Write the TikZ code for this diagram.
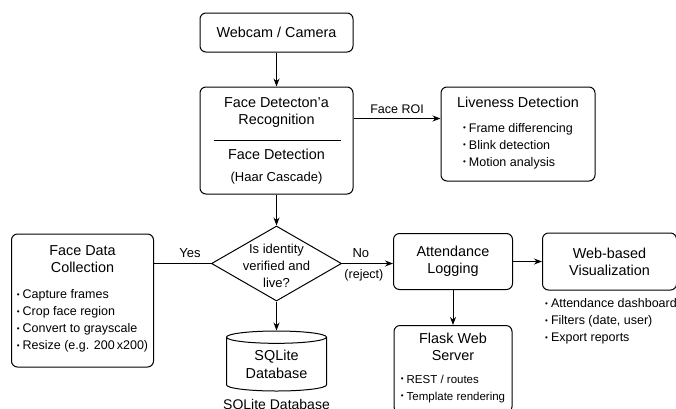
\documentclass[tikz,border=0pt]{standalone}
\usepackage{fontspec}
\setmainfont{Liberation Sans}
\usetikzlibrary{shapes.geometric,arrows.meta,positioning,calc}

\newcommand{\itm}{\raisebox{0.2ex}{\footnotesize\textbullet}\hspace{3pt}}
\newcommand{\bulletlist}[1]{{\fontsize{12.5}{17}\selectfont\begin{tabular}[t]{@{}l@{}}#1\end{tabular}}}

\begin{document}
\begin{tikzpicture}[x=1pt, y=-1pt,
    block/.style={rectangle, draw, rounded corners=6pt, line width=1pt, align=center, inner sep=0pt, font=\fontsize{14.4}{17}\selectfont},
    decision/.style={diamond, draw, line width=1pt, minimum width=130pt, minimum height=75pt, inner sep=0pt},
    store/.style={cylinder, draw, shape border rotate=90, aspect=0.2, line width=1pt, align=center, inner sep=0pt, font=\fontsize{14.4}{18}\selectfont},
    note/.style={align=left, inner sep=0pt, font=\fontsize{12.5}{17}\selectfont},
    arrow/.style={-{Stealth[length=8pt,width=6pt]}, line width=1pt},
    line/.style={line width=1pt}]
  \clip (0,0) rectangle (676,408);

  \node[block, minimum width=153pt, minimum height=39pt] (cam) at (276.5,32.5) {Webcam / Camera};
  \node[block, minimum width=153pt, minimum height=107pt, below=34pt of cam] (det)
    {Face Detecton'a\\Recognition\\[18pt]Face Detection\\[5pt]{\fontsize{13}{17}\selectfont(Haar Cascade)}};
  \draw[line] ([xshift=14pt]det.west) -- ([xshift=-13pt]det.east);
  \node[block, minimum width=154pt, minimum height=94pt, right=87pt of det.north east, anchor=north west] (live)
    {Liveness Detection\\[8pt]\bulletlist{\itm Frame differencing\\\itm Blink detection\\\itm Motion analysis}};

  \node[decision, below=31pt of det, label={[align=center, font=\fontsize{13}{17}\selectfont, yshift=-2pt]center:Is identity\\verified and\\live?}] (dec) {};
  \node[block, minimum width=142pt, minimum height=133pt, left=57pt of dec.west, anchor=north east, yshift=30pt] (fdc)
    {Face Data\\Collection\\[9pt]\bulletlist{\itm Capture frames\\\itm Crop face region\\\itm Convert to grayscale\\\itm Resize (e.g. 200\,x200)}};
  \node[store, minimum width=100pt, minimum height=60pt, below=29pt of dec,
    label={[font=\fontsize{14}{17}\selectfont, inner sep=0pt, yshift=-8pt]below:SQLite Database}] (db) {SQLite\\Database};

  \node[block, minimum width=119pt, minimum height=56pt, right=51pt of dec.east, anchor=west, yshift=2pt] (att) {Attendance\\Logging};
  \node[block, minimum width=134pt, minimum height=57pt, right=29pt of att] (web) {Web-based\\Visualization};
  \node[note, below=8pt of web.south west, anchor=north west, xshift=3pt] (webnote)
    {\itm Attendance dashboard\\\itm Filters (date, user)\\\itm Export reports};
  \node[block, minimum width=118pt, minimum height=87pt, below=35pt of att] (flask)
    {Flask Web\\Server\\[6pt]{\fontsize{11.5}{17}\selectfont\begin{tabular}[t]{@{}l@{}}\itm REST / routes\\\itm Template rendering\end{tabular}}};

  \coordinate (roi) at ([yshift=-32pt]det.north east);
  \draw[arrow] (cam) -- (det);
  \draw[arrow] (roi) -- (roi -| live.west) node[midway, above=1pt, font=\fontsize{12.5}{15}\selectfont] {Face ROI};
  \draw[arrow] (det) -- (dec);
  \draw[line] (dec.west) -- (dec.west -| fdc.east) node[pos=0.37, above=2pt, font=\fontsize{13}{15}\selectfont] {Yes};
  \draw[arrow] (dec.east) -- (dec.east -| att.west)
    node[pos=0.37, above=2pt, font=\fontsize{13}{15}\selectfont] {No}
    node[pos=0.43, below=2pt, font=\fontsize{12.5}{15}\selectfont] {(reject)};
  \draw[arrow] (dec) -- (db);
  \draw[arrow] (att) -- (web);
  \draw[arrow] (att) -- (flask);
\end{tikzpicture}
\end{document}
